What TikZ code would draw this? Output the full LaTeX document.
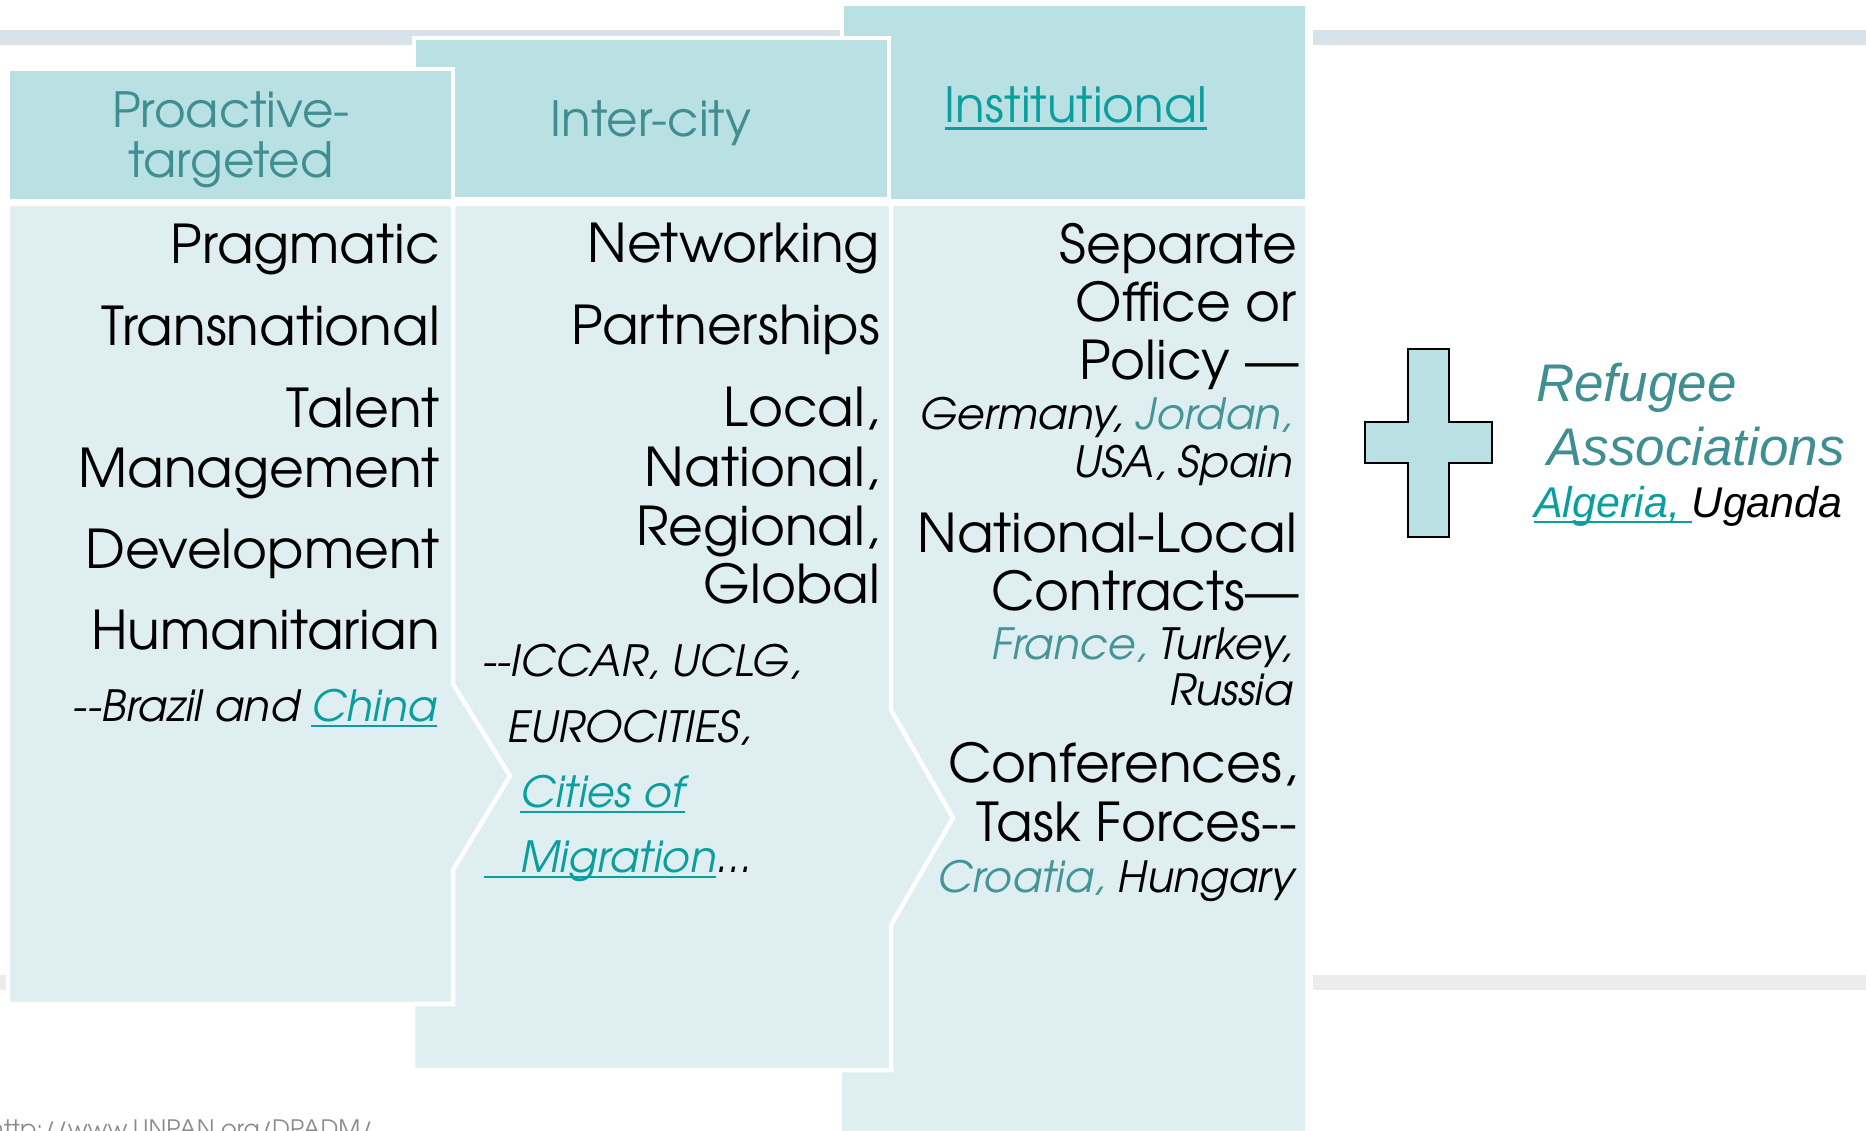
\documentclass[tikz,border=0pt]{standalone}
\usepackage{fontspec}
\setmainfont{texgyreadventor}[Extension=.otf,UprightFont=*-regular,ItalicFont=*-italic,BoldFont=*-bold,BoldItalicFont=*-bolditalic]
\newfontfamily\arialfont{Liberation Sans}
\definecolor{hdrfill}{RGB}{185,224,227}
\definecolor{bdyfill}{RGB}{223,239,241}
\definecolor{bandtop}{RGB}{216,226,235}
\definecolor{bandlow}{RGB}{236,236,236}
\definecolor{hdrtext}{RGB}{62,142,146}
\definecolor{linkteal}{RGB}{10,158,158}
\definecolor{mutedteal}{RGB}{68,148,152}
\definecolor{footgrey}{RGB}{140,140,140}
\newcommand\ulnk[1]{\setbox0=\hbox{#1}\rlap{\rule[-0.14em]{\wd0}{0.055em}}\box0}
\tikzset{
  shp/.style={draw=white, line width=4.5pt, line join=miter},
  hdrbox/.style={shp, fill=hdrfill},
  bdybox/.style={shp, fill=bdyfill},
  maintxt/.style={inner sep=0pt, font=\fontsize{53.5}{59}\selectfont, text=black},
  subtxt/.style={inner sep=0pt, font=\fontsize{43}{50}\selectfont\itshape, text=black},
  hdrtxt/.style={inner sep=0pt, font=\fontsize{48.5}{50}\selectfont, text=hdrtext},
  arialtxt/.style={inner sep=0pt, anchor=base west, text=hdrtext},
}
\begin{document}
\begin{tikzpicture}[x=1pt,y=-1pt]
\useasboundingbox (0,0) rectangle (1866,1131);
\clip (0,0) rectangle (1866,1131);
% background bands
\fill[bandtop] (0,30) rectangle (900,45);
\fill[bandtop] (1313,30) rectangle (1866,45);
\fill[bandlow] (0,975) rectangle (900,990);
\fill[bandlow] (1313,975) rectangle (1866,990);
% institutional column
\path[bdybox] (840,204) -- (1307,204) -- (1307,1150) -- (840,1150) -- cycle;
\path[hdrbox] (842,4) rectangle (1307,201);
% inter-city column
\path[bdybox] (413,204) -- (891,204) -- (891,710) -- (953,818) -- (891,925) -- (891,1070) -- (413,1070) -- cycle;
\path[hdrbox] (414,38) rectangle (889,199);
% proactive column
\path[bdybox] (8,204) -- (453,204) -- (453,684) -- (510,776) -- (453,870) -- (453,1004) -- (8,1004) -- cycle;
\path[hdrbox] (8,69) rectangle (453,201);
% headers
\node[hdrtxt, anchor=base] (h1a) at (231,128) {Proactive-};
\node[hdrtxt, anchor=base] (h1b) at (231,178) {targeted};
\node[hdrtxt, anchor=base] (h2) at (651,137) {Inter-city};
\node[hdrtxt, anchor=base, text=linkteal] (h3) at (1076,123) {\ulnk{Institutional}};
% column 1
\node[maintxt, anchor=base east] (p1) at (440,264) {Pragmatic};
\node[maintxt, anchor=base east] (p2) at (440,346) {Transnational};
\node[maintxt, anchor=base east] (p3) at (440,428) {Talent};
\node[maintxt, anchor=base east] (p4) at (440,487) {Management};
\node[maintxt, anchor=base east] (p5) at (440,568) {Development};
\node[maintxt, anchor=base east] (p6) at (440,649) {Humanitarian};
\node[subtxt, anchor=base east] (p7) at (437,721) {-{}-Brazil and \textcolor{linkteal}{\ulnk{China}}};
% column 2
\node[maintxt, anchor=base east] (n1) at (880,263) {Networking};
\node[maintxt, anchor=base east] (n2) at (880,345) {Partnerships};
\node[maintxt, anchor=base east] (n3) at (880,427) {Local,};
\node[maintxt, anchor=base east] (n4) at (880,486) {National,};
\node[maintxt, anchor=base east] (n5) at (880,545) {Regional,};
\node[maintxt, anchor=base east] (n6) at (880,603) {Global};
\node[subtxt, anchor=base west] (n7) at (482,676) {-{}-ICCAR, UCLG,};
\node[subtxt, anchor=base west] (n8) at (507,742) {EUROCITIES,};
\node[subtxt, anchor=base west, text=linkteal] (n9) at (520,807) {\ulnk{Cities of}};
\node[subtxt, anchor=base west, text=linkteal] (n10) at (484,872) {\ulnk{\hspace*{36pt}Migration}\textcolor{black}{...}};
% column 3
\node[maintxt, anchor=base east] (i1) at (1297,264) {Separate};
\node[maintxt, anchor=base east] (i2) at (1297,322) {Office or};
\node[maintxt, anchor=base east] (i3) at (1299,380) {Policy —};
\node[subtxt, anchor=base east] (i4) at (1293,429) {Germany, \textcolor{mutedteal}{Jordan,}};
\node[subtxt, anchor=base east] (i5) at (1293,477) {USA, Spain};
\node[maintxt, anchor=base east] (i6) at (1297,552) {National-Local};
\node[maintxt, anchor=base east] (i7) at (1299,610) {Contracts—};
\node[subtxt, anchor=base east] (i8) at (1293,659) {\textcolor{mutedteal}{France,} Turkey,};
\node[subtxt, anchor=base east] (i9) at (1293,705) {Russia};
\node[maintxt, anchor=base east] (i10) at (1297,782) {Conferences,};
\node[maintxt, anchor=base east] (i11) at (1297,841) {Task Forces-{}-};
\node[subtxt, anchor=base east] (i12) at (1295,892) {\textcolor{mutedteal}{Croatia,} Hungary};
% cross
\path[fill=hdrfill, draw=black, line width=1.5pt, line join=miter]
  (1408,349) -- (1449,349) -- (1449,422) -- (1492,422) -- (1492,463) -- (1449,463)
  -- (1449,537) -- (1408,537) -- (1408,463) -- (1365,463) -- (1365,422) -- (1408,422) -- cycle;
% refugee associations
\node[arialtxt, font=\arialfont\itshape\fontsize{53}{57}\selectfont] (r1) at (1536,402) {Refugee};
\node[arialtxt, font=\arialfont\itshape\fontsize{53}{57}\selectfont] (r2) at (1547,465) {Associations};
\node[arialtxt, font=\arialfont\itshape\fontsize{43}{47}\selectfont, text=linkteal] (r3) at (1534,517) {\ulnk{Algeria, }\textcolor{black}{Uganda}};
% footer
\node[inner sep=0pt, anchor=base west, font=\fontsize{24}{28}\selectfont, text=footgrey] (ft) at (-11,1137) {http://www.UNPAN.org/DPADM/};
\end{tikzpicture}
\end{document}
